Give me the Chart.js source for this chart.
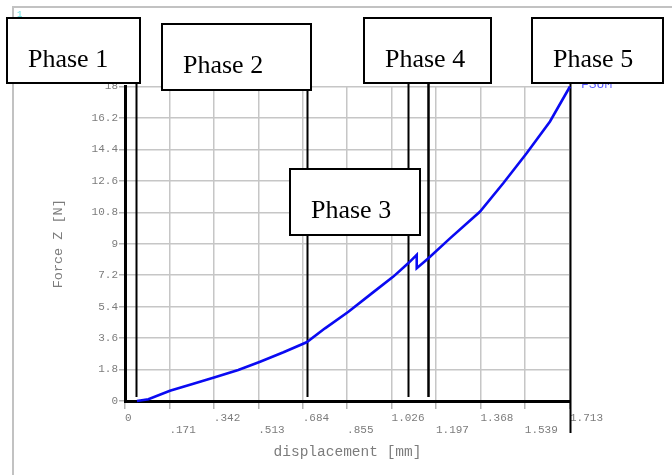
<!DOCTYPE html>
<html>
<head>
<meta charset="utf-8">
<script src="https://cdn.jsdelivr.net/npm/chart.js@4.4.1/dist/chart.umd.min.js"></script>
<style>
  html, body { margin: 0; padding: 0; background: #fff; }
  canvas { display: block; }
</style>
</head>
<body>
<canvas id="c" width="672" height="475"></canvas>
<script>
// Force–displacement response (FSUM, Z component)
const displacement = [0.046, 0.09, 0.173, 0.26, 0.346, 0.436, 0.52, 0.61, 0.699, 0.77, 0.86, 0.95, 1.033, 1.09, 1.123, 1.123, 1.168, 1.251, 1.366, 1.456, 1.546, 1.636, 1.713];
const forceZ       = [0, 0.1, 0.59, 0.97, 1.36, 1.77, 2.25, 2.79, 3.36, 4.16, 5.11, 6.16, 7.12, 7.88, 8.36, 7.6, 8.17, 9.31, 10.83, 12.46, 14.18, 16.0, 18.0];

const xTickValues = [0, 0.171, 0.342, 0.513, 0.684, 0.855, 1.026, 1.197, 1.368, 1.539, 1.713];
const xTickLabels = ['0', '.171', '.342', '.513', '.684', '.855', '1.026', '1.197', '1.368', '1.539', '1.713'];
const yTickValues = [0, 1.8, 3.6, 5.4, 7.2, 9, 10.8, 12.6, 14.4, 16.2, 18];
const yTickLabels = ['0', '1.8', '3.6', '5.4', '7.2', '9', '10.8', '12.6', '14.4', '16.2', '18'];

// Phase labels and the displacements where the phase markers stand
const phaseNames = ['Phase 1', 'Phase 2', 'Phase 3', 'Phase 4', 'Phase 5'];
const phaseMarkers = [0.042, 0.702, 1.090, 1.166, 1.713];

// Page layout of the phase callouts (canvas pixels)
const boxLayout = [
  { x: 7,   y: 18,  w: 133, h: 65 },
  { x: 162, y: 24,  w: 149, h: 66 },
  { x: 290, y: 169, w: 130, h: 66 },
  { x: 364, y: 18,  w: 127, h: 65 },
  { x: 532, y: 18,  w: 131, h: 65 }
];
const markerLayout = [
  { top: 83, bottom: 397, width: 2 },
  { top: 90, bottom: 397, width: 2 },
  { top: 83, bottom: 397, width: 2 },
  { top: 83, bottom: 397, width: 2.5 },
  { top: 83, bottom: 433, width: 2 }
];

const MONO = '"Liberation Mono", "DejaVu Sans Mono", monospace';
const SERIF = '"Liberation Serif", "DejaVu Serif", serif';
const AXIS_TEXT = '#7c7c7c';

const framePlugin = {
  id: 'frame',
  beforeDraw(chart) {
    const ctx = chart.ctx;
    ctx.save();
    ctx.fillStyle = '#fff';
    ctx.fillRect(0, 0, chart.width, chart.height);
    ctx.strokeStyle = '#c2c2c2';
    ctx.lineWidth = 2;
    ctx.beginPath();
    ctx.moveTo(13, chart.height);
    ctx.lineTo(13, 7);
    ctx.lineTo(chart.width, 7);
    ctx.stroke();
    ctx.fillStyle = '#66e0e0';
    ctx.font = '9px ' + MONO;
    ctx.textBaseline = 'top';
    ctx.fillText('1', 17, 10);
    ctx.restore();
  }
};

const markerPlugin = {
  id: 'phaseMarkers',
  beforeDatasetsDraw(chart) {
    const ctx = chart.ctx;
    const xs = chart.scales.x;
    ctx.save();
    ctx.strokeStyle = '#000';
    phaseMarkers.forEach((v, i) => {
      const m = markerLayout[i];
      const px = Math.round(xs.getPixelForValue(v)) + 0.5;
      ctx.lineWidth = m.width;
      ctx.beginPath();
      ctx.moveTo(px, m.top);
      ctx.lineTo(px, m.bottom);
      ctx.stroke();
    });
    ctx.restore();
  }
};

const calloutPlugin = {
  id: 'phaseCallouts',
  afterDraw(chart) {
    const ctx = chart.ctx;
    ctx.save();
    // series name beside the curve end
    ctx.fillStyle = '#5a5aff';
    ctx.font = '13px ' + MONO;
    ctx.textBaseline = 'alphabetic';
    ctx.fillText('FSUM', 581, 88);
    phaseNames.forEach((name, i) => {
      const b = boxLayout[i];
      ctx.fillStyle = '#fff';
      ctx.fillRect(b.x, b.y, b.w, b.h);
      ctx.strokeStyle = '#000';
      ctx.lineWidth = 2;
      ctx.strokeRect(b.x, b.y, b.w, b.h);
      ctx.fillStyle = '#000';
      ctx.font = '26px ' + SERIF;
      ctx.textAlign = 'left';
      ctx.textBaseline = 'alphabetic';
      ctx.fillText(name, b.x + 21, b.y + 49);
    });
    ctx.restore();
  }
};

new Chart(document.getElementById('c'), {
  type: 'line',
  data: {
    datasets: [{
      label: 'FSUM',
      data: displacement.map((d, i) => ({ x: d, y: forceZ[i] })),
      borderColor: '#0a0af2',
      borderWidth: 2.6,
      pointRadius: 0,
      tension: 0,
      fill: false,
      clip: false
    }]
  },
  options: {
    responsive: false,
    devicePixelRatio: 1,
    animation: false,
    events: [],
    layout: { padding: { left: 0, top: 86.5, right: 102, bottom: 0 } },
    plugins: { legend: { display: false }, tooltip: { enabled: false }, title: { display: false } },
    scales: {
      x: {
        type: 'linear',
        min: 0,
        max: 1.713,
        afterBuildTicks: (s) => { s.ticks = xTickValues.map(v => ({ value: v })); },
        afterFit: (s) => { s.height = 74; s.paddingLeft = 0; s.paddingRight = 0; },
        ticks: {
          autoSkip: false,
          maxRotation: 0,
          minRotation: 0,
          align: 'start',
          padding: 3,
          color: AXIS_TEXT,
          font: { family: MONO, size: 11, lineHeight: 1.1 },
          callback: (v, i) => (i % 2 ? ['', xTickLabels[i]] : xTickLabels[i])
        },
        grid: { color: '#c6c6c6', lineWidth: 1.5, tickColor: '#b4b4b4', tickLength: 8, drawTicks: true },
        border: { display: true, color: '#000', width: 3 },
        title: {
          display: true,
          text: 'displacement [mm]',
          color: AXIS_TEXT,
          font: { family: MONO, size: 14.5 },
          padding: { top: 0, bottom: 14 }
        }
      },
      y: {
        type: 'linear',
        min: 0,
        max: 18,
        afterBuildTicks: (s) => { s.ticks = yTickValues.map(v => ({ value: v })); },
        afterFit: (s) => { s.width = 125; s.paddingTop = 0; s.paddingBottom = 0; },
        ticks: {
          padding: 1,
          color: AXIS_TEXT,
          font: { family: MONO, size: 11 },
          callback: (v, i) => yTickLabels[i]
        },
        grid: { color: '#c6c6c6', lineWidth: 1.5, tickColor: '#b4b4b4', tickLength: 6, drawTicks: true },
        border: { display: true, color: '#000', width: 3 },
        title: {
          display: true,
          text: 'Force Z [N]',
          color: AXIS_TEXT,
          font: { family: MONO, size: 13.5 },
          padding: { top: 50, bottom: 0 }
        }
      }
    }
  },
  plugins: [framePlugin, markerPlugin, calloutPlugin]
});
</script>
</body>
</html>
